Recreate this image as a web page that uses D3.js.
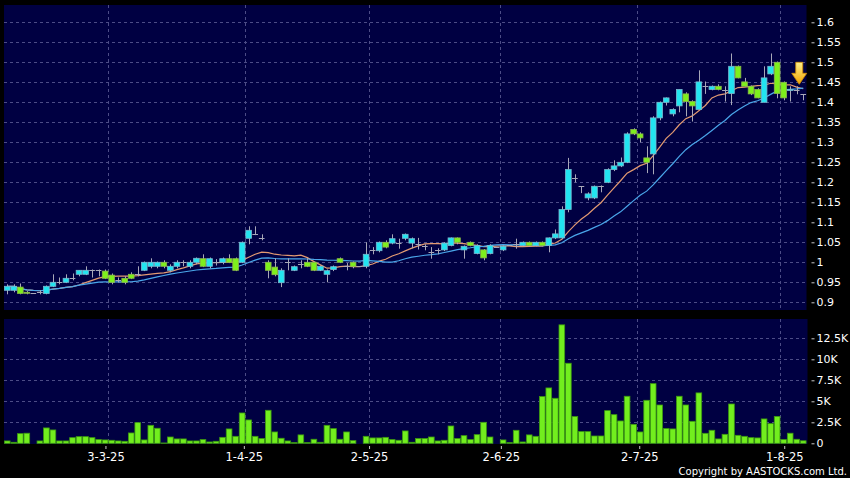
<!DOCTYPE html>
<html><head><meta charset="utf-8">
<script src="https://cdn.jsdelivr.net/npm/d3@7"></script>
<style>
html,body{margin:0;padding:0;background:#000;}
svg{display:block;}
text{font-family:"DejaVu Sans",Verdana,sans-serif;}
</style></head>
<body><svg id="chart" width="850" height="478"></svg>
<script>
// ---------- data ----------
const opens = [0.930,0.930,0.938,0.925,0.923,0.925,0.922,0.940,0.950,0.950,0.960,0.970,0.970,0.980,0.980,0.978,0.968,0.955,0.960,0.970,
0.970,0.980,0.990,0.990,1.000,0.980,0.990,1.000,0.990,1.000,1.009,0.990,1.000,1.000,1.009,1.009,1.000,1.060,1.072,1.062,
1.000,0.988,0.949,1.000,0.980,0.995,1.000,1.000,0.980,0.970,0.982,1.009,0.990,1.000,0.990,0.990,1.030,1.029,1.050,1.048,
1.048,1.060,1.048,1.045,1.040,1.026,1.030,1.031,1.042,1.061,1.031,1.050,1.022,1.031,1.022,1.038,1.031,1.043,1.045,1.042,
1.050,1.042,1.050,1.042,1.061,1.061,1.132,1.211,1.190,1.161,1.161,1.190,1.200,1.232,1.241,1.250,1.332,1.321,1.261,1.271,
1.361,1.400,1.371,1.391,1.421,1.402,1.382,1.440,1.432,1.440,1.430,1.422,1.490,1.451,1.440,1.432,1.400,1.471,1.500,1.450,
1.430,1.430,1.420];
const highs = [0.945,0.945,0.947,0.928,0.923,0.930,0.942,0.970,0.962,0.970,0.972,0.980,0.990,0.982,0.982,0.982,0.972,0.962,0.965,0.975,
0.990,1.002,1.010,1.002,1.005,0.995,1.005,1.005,1.005,1.012,1.020,1.012,1.008,1.012,1.020,1.012,1.052,1.090,1.090,1.070,
1.005,1.010,0.985,1.010,0.992,1.005,1.010,1.002,0.992,0.982,0.992,1.012,0.998,1.002,0.990,1.050,1.038,1.052,1.055,1.070,
1.059,1.072,1.062,1.061,1.045,1.038,1.035,1.050,1.062,1.062,1.042,1.052,1.045,1.033,1.045,1.038,1.042,1.043,1.059,1.052,
1.052,1.052,1.052,1.062,1.082,1.140,1.261,1.220,1.190,1.175,1.192,1.192,1.235,1.255,1.262,1.325,1.335,1.325,1.290,1.365,
1.402,1.412,1.385,1.432,1.425,1.405,1.480,1.452,1.442,1.445,1.440,1.522,1.492,1.461,1.442,1.435,1.490,1.522,1.502,1.452,
1.440,1.440,1.420];
const lows = [0.920,0.925,0.920,0.920,0.923,0.920,0.920,0.938,0.945,0.948,0.955,0.965,0.968,0.962,0.965,0.958,0.945,0.950,0.945,0.958,
0.965,0.978,0.985,0.985,0.985,0.975,0.985,0.990,0.985,0.995,0.988,0.985,0.992,0.995,0.998,0.978,0.998,1.045,1.068,1.055,
0.960,0.965,0.938,0.980,0.978,0.985,0.988,0.978,0.978,0.950,0.978,0.998,0.980,0.985,0.990,0.985,1.020,1.025,1.035,1.045,
1.034,1.055,1.035,1.032,1.030,1.009,1.020,1.028,1.040,1.045,1.009,1.040,1.020,1.005,1.020,1.038,1.028,1.043,1.034,1.040,
1.040,1.040,1.040,1.025,1.058,1.058,1.125,1.200,1.173,1.155,1.158,1.175,1.198,1.228,1.238,1.248,1.318,1.300,1.223,1.220,
1.355,1.392,1.365,1.375,1.365,1.352,1.382,1.421,1.430,1.430,1.402,1.393,1.460,1.440,1.418,1.410,1.400,1.468,1.410,1.405,
1.402,1.420,1.405];
const closes = [0.940,0.940,0.922,0.923,0.923,0.925,0.940,0.950,0.950,0.960,0.960,0.980,0.980,0.980,0.980,0.960,0.950,0.955,0.950,0.960,
0.970,1.000,1.000,1.000,0.990,0.990,1.000,1.000,1.000,1.010,0.990,1.009,1.000,1.009,1.000,0.980,1.050,1.080,1.072,1.062,
0.980,0.969,0.980,1.000,0.989,0.995,0.990,0.980,0.990,0.979,0.989,1.000,0.990,0.990,0.990,1.020,1.030,1.050,1.038,1.059,
1.048,1.070,1.059,1.045,1.040,1.026,1.030,1.048,1.061,1.050,1.040,1.042,1.042,1.011,1.042,1.038,1.040,1.043,1.045,1.050,
1.042,1.050,1.042,1.061,1.071,1.132,1.232,1.211,1.190,1.171,1.190,1.190,1.232,1.241,1.250,1.321,1.321,1.311,1.250,1.361,
1.400,1.411,1.382,1.432,1.402,1.391,1.451,1.440,1.440,1.432,1.430,1.490,1.461,1.440,1.421,1.411,1.461,1.490,1.422,1.411,
1.432,1.430,1.420];
const volumes = [280,120,1150,1200,0,280,1830,1590,280,280,670,790,790,670,440,400,360,280,240,1230,
2460,400,2140,1790,40,750,520,520,280,280,440,160,240,710,1710,830,3610,2780,830,560,
3930,1350,600,280,80,1000,80,480,120,2140,1750,480,1350,320,0,830,640,640,710,440,
360,1470,120,560,560,750,280,360,2060,560,910,440,1030,2500,750,0,400,80,1550,160,
1000,830,5560,6590,5360,14100,9530,3180,1390,1390,870,870,3890,3410,2660,5600,2260,1350,5120,7100,
4560,1750,1710,5600,4560,2620,6000,1190,1550,520,1070,4680,950,830,670,640,2900,2340,3200,440,
1200,480,300];
const tickIndex  = [16, 37, 56, 76, 97, 119];
const tickLabels = ["3-3-25","1-4-25","2-5-25","2-6-25","2-7-25","1-8-25"];
const priceTicks = [0.9,0.95,1,1.05,1.1,1.15,1.2,1.25,1.3,1.35,1.4,1.45,1.5,1.55,1.6];
const volTicks   = [0,2500,5000,7500,10000,12500];
const volTickLabels = ["0","2.5K","5K","7.5K","10K","12.5K"];
const maPeriods  = [10, 20];

// ---------- layout ----------
const N = closes.length;
const idx = d3.range(N);
const svg = d3.select("#chart");
const P = {left:4, right:806.5, top:5, bottom:310};
const V = {top:319, bottom:444};
const navy = "#000042";
const gridCol = "#4c4c86";
const cyan = "#22e4f0", green = "#7ef01c";

const x = d3.scaleBand().domain(idx).range([P.left, P.right]).paddingInner(0.13).paddingOuter(0.065);
const cx = i => x(i) + x.bandwidth()/2;
const tickX = d3.scaleLinear().domain([0, N-1]).range([0, 804]);
const y = d3.scaleLinear().domain([0.9, 1.6]).range([302.3, 22.3]);
const yv = d3.scaleLinear().domain([0, 12500]).range([443.3, 338.3]);

// panels
svg.append("rect").attr("x",P.left).attr("y",P.top).attr("width",P.right-P.left).attr("height",P.bottom-P.top).attr("fill",navy);
svg.append("rect").attr("x",P.left).attr("y",V.top).attr("width",P.right-P.left+1).attr("height",V.bottom-V.top).attr("fill",navy);

// grids
const gp = svg.append("g").attr("stroke",gridCol).attr("stroke-dasharray","3,3").attr("stroke-width",1);
priceTicks.forEach(v=>{
  gp.append("line").attr("x1",P.left).attr("x2",P.right).attr("y1",Math.round(y(v))+0.5).attr("y2",Math.round(y(v))+0.5);
});
volTicks.slice(1).forEach(v=>{
  gp.append("line").attr("x1",P.left).attr("x2",P.right).attr("y1",Math.round(yv(v))+0.5).attr("y2",Math.round(yv(v))+0.5);
});
tickIndex.forEach(i=>{
  const gx = Math.round(x(i)-0.5)+0.5;
  gp.append("line").attr("x1",gx).attr("x2",gx).attr("y1",P.top).attr("y2",P.bottom);
  gp.append("line").attr("x1",gx).attr("x2",gx).attr("y1",V.top).attr("y2",V.bottom);
});

// moving averages
const maColors = ["#e39a72", "#4aa6ea"];
maPeriods.forEach((p,k)=>{
  const ma = idx.map(i=>d3.mean(closes.slice(Math.max(0,i-p+1), i+1)));
  svg.append("path").datum(ma)
    .attr("fill","none").attr("stroke",maColors[k]).attr("stroke-width",1.2)
    .attr("d", d3.line().x((d,i)=>cx(i)).y(d=>y(d)));
});

// candles
const bw = x.bandwidth();
const cg = svg.append("g");
idx.forEach(i=>{
  const o=opens[i], h=highs[i], l=lows[i], c=closes[i];
  const xc = Math.round(cx(i))+0.5;
  cg.append("line").attr("x1",xc).attr("x2",xc).attr("y1",y(h)).attr("y2",y(l)).attr("stroke","#a8a8b8").attr("stroke-width",1);
  if (Math.abs(o-c) < 1e-6) {
    cg.append("line").attr("x1",x(i)).attr("x2",x(i)+bw).attr("y1",Math.round(y(c))+0.5).attr("y2",Math.round(y(c))+0.5)
      .attr("stroke","#a8a8b8").attr("stroke-width",1);
  } else {
    const up = c > o;
    const top = y(Math.max(o,c)), bot = y(Math.min(o,c));
    cg.append("rect").attr("x",x(i)).attr("y",top).attr("width",bw).attr("height",Math.max(1,bot-top))
      .attr("fill", up?cyan:green).attr("stroke", up?"#7ab8d0":"#8cb84a").attr("stroke-width",0.8);
  }
});

// volume bars
svg.append("g").selectAll("rect").data(idx).join("rect")
  .attr("x", i=>x(i)).attr("width", bw)
  .attr("y", i=>yv(volumes[i])).attr("height", i=>yv(0)-yv(volumes[i]))
  .attr("fill","#72ee1e").attr("stroke","#3c9a10").attr("stroke-width",0.8);

// arrow over last candle
const ax = cx(N-1) - 4, atip = y(highs[N-1] + 0.025);
const grad = svg.append("defs").append("linearGradient").attr("id","ag").attr("x1",0).attr("y1",0).attr("x2",0).attr("y2",1);
grad.append("stop").attr("offset","0%").attr("stop-color","#fff08a");
grad.append("stop").attr("offset","100%").attr("stop-color","#f0a400");
svg.append("path")
  .attr("d",`M${ax-3.5},${atip-22} L${ax+3.5},${atip-22} L${ax+3.5},${atip-11} L${ax+7.5},${atip-11} L${ax},${atip} L${ax-7.5},${atip-11} L${ax-3.5},${atip-11} Z`)
  .attr("fill","url(#ag)").attr("stroke","#d08a00").attr("stroke-width",0.8);

// right axes
const axStyle = (size) => g => {
  g.select(".domain").remove();
  g.selectAll(".tick line").attr("stroke","#c8c8c8");
  g.selectAll(".tick text").attr("fill","#ffffff").attr("font-size",size).attr("font-family","DejaVu Sans, sans-serif");
};
svg.append("g").attr("transform","translate(811.5,0)")
  .call(d3.axisRight(y).tickValues(priceTicks).tickSize(3).tickPadding(2).tickFormat(d=>String(+d.toFixed(2))))
  .call(axStyle("11px"));
svg.append("g").attr("transform","translate(811.5,0)")
  .call(d3.axisRight(yv).tickValues(volTicks).tickSize(3).tickPadding(2).tickFormat((d,k)=>volTickLabels[k]))
  .call(axStyle("11px"));

// bottom axis
svg.append("g").attr("transform",`translate(0,${V.bottom+2})`)
  .call(d3.axisBottom(tickX).tickValues(tickIndex).tickSize(3).tickPadding(4).tickFormat((d,k)=>tickLabels[k]))
  .call(axStyle("11.5px"));

svg.append("text").attr("x",847).attr("y",475).attr("text-anchor","end").attr("fill","#ffffff")
  .attr("font-size","10px").attr("font-family","DejaVu Sans, sans-serif")
  .text("Copyright by AASTOCKS.com Ltd.");
</script></body></html>
